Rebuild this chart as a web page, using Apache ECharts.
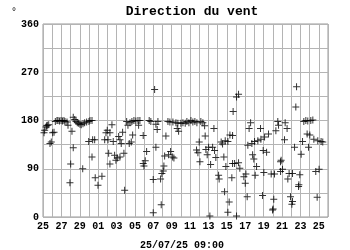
<!DOCTYPE html>
<html><head><meta charset="utf-8">
<script src="https://cdn.jsdelivr.net/npm/echarts@6/dist/echarts.min.js"></script>
<style>html,body{margin:0;padding:0;background:#fff}#c{width:350px;height:250px}</style>
</head><body><div id="c"></div>
<script>
// x = days since 25/06 00:00, y = direction in degrees
const xLabels = ['25','27','29','01','03','05','07','09','11','13','15','17','19','21','23','25'];
const yTicks = [0, 90, 180, 270, 360];
const titleText = 'Direction du vent';
const unitText = '°';
const footerText = '25/07/25 09:00';
const windDir = [
[0.11,157],[0.18,162],[0.33,168],[0.4,170],[0.47,171],[0.62,172],[0.76,137],[0.9,140],[1.05,157],[1.2,158],
[1.34,178],[1.52,180],[1.63,180],[1.79,179],[1.96,180],[2.12,179],[2.28,180],[2.39,178],[2.61,177],[2.72,171],
[2.93,64],[3.01,99],[3.15,160],[3.29,129],[3.29,186],[3.45,182],[3.59,178],[3.73,176],[3.88,175],[4.02,173],
[4.16,172],[4.32,90],[4.35,174],[4.53,176],[4.75,177],[4.97,141],[5.0,178],[5.11,180],[5.33,180],[5.33,112],
[5.4,144],[5.62,144],[5.68,73],[5.98,59],[6.41,76],[6.71,144],[6.85,157],[6.99,162],[7.07,144],[7.14,119],
[7.28,157],[7.28,99],[7.5,172],[7.64,141],[7.79,115],[7.93,106],[8.08,110],[8.23,150],[8.37,144],[8.37,112],
[8.51,137],[8.66,158],[8.8,119],[8.88,50],[9.1,178],[9.24,171],[9.38,137],[9.46,176],[9.6,140],[9.67,178],
[9.75,153],[9.89,180],[10.1,179],[10.33,180],[10.4,171],[10.54,180],[10.9,152],[10.9,100],[10.98,95],[11.12,105],
[11.27,122],[11.55,180],[11.73,178],[11.99,8],[11.99,70],[12.14,238],[12.28,173],[12.28,130],[12.42,163],[12.5,178],
[12.79,71],[12.86,23],[12.93,81],[13.08,86],[13.15,95],[13.23,114],[13.37,151],[13.59,178],[13.66,116],[13.8,177],
[13.88,122],[14.1,112],[14.13,177],[14.24,110],[14.46,176],[14.6,165],[14.75,160],[14.67,175],[15.0,175],[15.22,176],
[15.47,175],[15.65,178],[15.87,176],[16.09,180],[16.3,177],[16.52,178],[16.7,125],[16.74,176],[16.85,120],[16.99,140],
[17.07,103],[17.17,178],[17.39,176],[17.58,170],[17.64,151],[17.72,126],[17.86,116],[18.01,130],[18.15,2],[18.23,98],
[18.45,130],[18.59,165],[18.66,124],[18.8,111],[19.1,78],[19.16,71],[19.38,140],[19.53,136],[19.67,112],[19.75,47],
[19.82,142],[19.89,94],[20.11,141],[20.11,9],[20.25,28],[20.33,153],[20.54,73],[20.62,100],[20.68,197],[20.62,152],
[20.84,100],[21.05,2],[21.05,224],[21.27,229],[21.27,101],[21.41,91],[21.85,75],[22.0,63],[22.07,80],[22.21,38],
[22.28,134],[22.42,165],[22.58,176],[22.72,137],[22.8,116],[22.93,108],[23.01,141],[23.08,78],[23.23,94],[23.37,142],
[23.66,165],[23.7,145],[23.88,40],[23.95,124],[24.02,83],[24.1,149],[24.32,121],[24.53,155],[24.82,80],[24.97,13],
[25.03,15],[25.1,33],[25.18,80],[25.33,161],[25.54,178],[25.62,171],[25.84,85],[25.84,103],[25.9,106],[26.05,89],
[26.27,144],[26.34,176],[26.55,165],[26.63,71],[26.77,81],[26.92,38],[27.07,24],[27.14,29],[27.14,81],[27.36,130],
[27.5,205],[27.58,243],[27.8,57],[27.83,60],[27.93,79],[28.08,117],[28.23,141],[28.37,178],[28.59,180],[28.73,155],
[28.8,179],[28.88,130],[29.02,153],[29.13,180],[29.35,181],[29.46,145],[29.67,85],[29.82,37],[29.89,142],[30.03,89],
[30.25,141],[30.43,140]
];
const mono = '"Liberation Mono", "DejaVu Sans Mono", monospace';
const chart = echarts.init(document.getElementById('c'), null, {renderer:'canvas'});
chart.setOption({
  animation: false,
  backgroundColor: '#fff',
  title: [
    {text: titleText, left: 187, top: 0, textAlign: 'center',
     textStyle: {fontFamily: mono, fontWeight: 'bold', fontSize: 13, color: '#000'}},
    {text: unitText, left: 6, top: 2,
     textStyle: {fontFamily: mono, fontWeight: 'normal', fontSize: 10, color: '#000'}},
    {text: footerText, left: 177, top: 235, textAlign: 'center',
     textStyle: {fontFamily: mono, fontWeight: 'bold', fontSize: 10, color: '#000'}}
  ],
  grid: {left: 43, right: 22, top: 24, bottom: 33, show: true, borderColor: '#999', borderWidth: 1},
  xAxis: {
    type: 'value', min: 0, max: 31, interval: 1,
    axisLine: {show: false}, axisTick: {show: false},
    splitLine: {show: true, lineStyle: {color: '#b4b4b4', width: 1}},
    axisLabel: {
      margin: 4, fontFamily: mono, fontWeight: 'bold', fontSize: 10, color: '#000',
      formatter: v => (v % 2 === 0 && xLabels[v / 2] !== undefined) ? xLabels[v / 2] : ''
    }
  },
  yAxis: {
    type: 'value', min: 0, max: 360, interval: 45,
    axisLine: {show: false}, axisTick: {show: false},
    splitLine: {show: true, lineStyle: {color: '#b4b4b4', width: 1}},
    axisLabel: {
      margin: 4, fontFamily: mono, fontWeight: 'bold', fontSize: 10, color: '#000',
      formatter: v => yTicks.indexOf(v) >= 0 ? String(v) : ''
    }
  },
  series: [{
    type: 'scatter',
    data: windDir,
    symbol: 'path://M3,0h1v3h3v1h-3v3h-1v-3h-3v-1h3z',
    symbolSize: 7,
    itemStyle: {color: '#000'},
    silent: true
  }]
});
</script></body></html>
